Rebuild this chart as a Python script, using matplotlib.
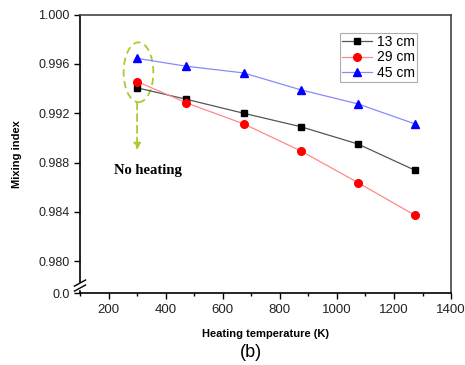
import matplotlib
matplotlib.use("Agg")
import matplotlib.pyplot as plt
from matplotlib.patches import Ellipse
from matplotlib.ticker import MultipleLocator

# Data
temps = [300, 473, 673, 873, 1073, 1273]
mix_13 = [0.99406, 0.99313, 0.99200, 0.99091, 0.98951, 0.98738]
mix_29 = [0.99457, 0.99284, 0.99114, 0.98895, 0.98638, 0.98373]
mix_45 = [0.99645, 0.99581, 0.99527, 0.99390, 0.99276, 0.99114]
labels = ["13 cm", "29 cm", "45 cm"]

y_bottom = 0.97741  # axis break, shown as "0.0"
yticks = [0.980, 0.984, 0.988, 0.992, 0.996, 1.000]

plt.rcParams['font.family'] = ['Liberation Sans', 'DejaVu Sans']

fig = plt.figure(figsize=(4.65, 3.65), dpi=100)
ax = fig.add_axes([0.172, 0.197, 0.798, 0.763])

ax.plot(temps, mix_13, '-s', color='#555555', mfc='black', mec='black',
        lw=0.9, ms=5, label=labels[0])
ax.plot(temps, mix_29, '-o', color='#ff8888', mfc='red', mec='red',
        lw=0.9, ms=5.5, label=labels[1])
ax.plot(temps, mix_45, '-^', color='#8888ff', mfc='blue', mec='blue',
        lw=0.9, ms=6, label=labels[2])

ax.set_xlim(100, 1400)
ax.set_ylim(y_bottom, 1.000)
ax.set_xticks([200, 400, 600, 800, 1000, 1200, 1400])
ax.xaxis.set_minor_locator(MultipleLocator(100))
ax.set_yticks([y_bottom] + yticks)
ax.set_yticklabels(["0.0"] + ["%.3f" % v for v in yticks])
ax.tick_params(axis='both', which='major', direction='out', length=4,
               width=1, labelsize=9.5, top=False, right=False,
               labelcolor='#222222')
ax.tick_params(axis='x', which='minor', direction='out', length=2.5, width=1)
ax.tick_params(axis='y', labelsize=9)
for s in ax.spines.values():
    s.set_linewidth(1.2)
ax.spines['right'].set_color('#444444')
ax.spines['top'].set_color('#444444')

ax.set_xlabel("Heating temperature (K)", fontsize=8, fontweight='bold', labelpad=10)
ax.set_ylabel("Mixing index", fontsize=8, fontweight='bold', labelpad=12)

# axis break marks
ax.plot([0, 0], [0.02, 0.034], transform=ax.transAxes, color='white',
        lw=2.5, clip_on=False, zorder=5)
for dy in (0.018, 0.036):
    ax.plot([-0.015, 0.015], [dy - 0.011, dy + 0.011], transform=ax.transAxes,
            color='black', lw=1, clip_on=False, zorder=6)

# "No heating" annotation
ell = Ellipse((305, 0.99532), 104, 0.00486, fill=False, ls=(0, (4, 2.5)),
              color='#a8cc30', lw=1.3)
ax.add_patch(ell)
ax.annotate("", xy=(300, 0.98900), xytext=(300, 0.99289),
            arrowprops=dict(arrowstyle='-|>', ls=(0, (4, 2.5)), color='#a8cc30',
                            lw=1.3, mutation_scale=10, shrinkA=0, shrinkB=0))
ax.text(218, 0.98738, "No heating", family=['Liberation Serif'], fontweight='bold',
        fontsize=10.5, va='center', ha='left')

leg = ax.legend(loc='upper right', bbox_to_anchor=(0.915, 0.945), fontsize=10,
                fancybox=False, edgecolor='#999999', handlelength=2.2,
                borderpad=0.15, labelspacing=0.12, handletextpad=0.3,
                borderaxespad=0.2)
leg.get_frame().set_linewidth(0.8)

fig.text(0.54, 0.035, "(b)", fontsize=13, ha='center', va='center')

fig.savefig("out.png", dpi=100)
